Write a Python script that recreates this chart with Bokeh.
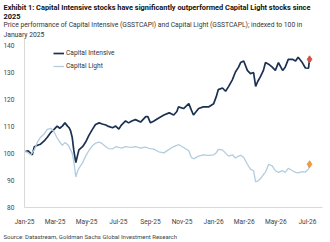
import pandas as pd
from bokeh.plotting import figure
from bokeh.models import Title, Range1d, FixedTicker, DatetimeTickFormatter, Legend, LegendItem
from bokeh.embed import file_html
from bokeh.resources import INLINE

dates = [
    "2025-01-03", "2025-01-08", "2025-01-13", "2025-01-16", "2025-01-20", "2025-01-26", "2025-02-01", "2025-02-08",
    "2025-02-14", "2025-02-21", "2025-02-27", "2025-03-05", "2025-03-10", "2025-03-15", "2025-03-20", "2025-03-25",
    "2025-03-28", "2025-03-31", "2025-04-03", "2025-04-06", "2025-04-10", "2025-04-13", "2025-04-16", "2025-04-23",
    "2025-04-29", "2025-05-05", "2025-05-12", "2025-05-18", "2025-05-25", "2025-05-31", "2025-06-07", "2025-06-12",
    "2025-06-20", "2025-06-26", "2025-07-02", "2025-07-07", "2025-07-15", "2025-07-21", "2025-07-27", "2025-08-03",
    "2025-08-13", "2025-08-23", "2025-08-27", "2025-09-01", "2025-09-07", "2025-09-17", "2025-09-27", "2025-10-07",
    "2025-10-10", "2025-10-16", "2025-10-22", "2025-10-25", "2025-11-04", "2025-11-14", "2025-11-19", "2025-11-23",
    "2025-12-03", "2025-12-12", "2025-12-22", "2026-01-01", "2026-01-06", "2026-01-10", "2026-01-18", "2026-01-24",
    "2026-01-30", "2026-02-06", "2026-02-12", "2026-02-18", "2026-02-22", "2026-02-28", "2026-03-07", "2026-03-13",
    "2026-03-19", "2026-03-23", "2026-03-27", "2026-04-01", "2026-04-07", "2026-04-11", "2026-04-17", "2026-04-24",
    "2026-04-30", "2026-05-06", "2026-05-14", "2026-05-19", "2026-05-25", "2026-06-02", "2026-06-08", "2026-06-13",
    "2026-06-21", "2026-06-27", "2026-07-03", "2026-07-05",
]

capital_intensive = [
    100.7, 101.0, 100.0, 99.5, 102.5, 103.0, 103.4, 104.6, 106.0, 107.8,
    108.9, 110.1, 109.3, 110.1, 111.3, 110.1, 109.5, 108.3, 106.0, 101.3,
    96.6, 99.0, 101.3, 102.5, 104.2, 106.6, 108.9, 110.7, 111.3, 110.9,
    110.5, 110.0, 109.5, 110.1, 109.0, 110.5, 112.0, 111.3, 112.0, 112.5,
    111.6, 113.6, 113.6, 111.3, 111.9, 113.1, 114.2, 115.0, 114.8, 114.2,
    115.5, 117.2, 116.6, 118.4, 116.0, 114.2, 116.6, 117.2, 117.2, 118.4,
    121.0, 123.6, 124.2, 123.0, 124.8, 127.2, 130.1, 131.9, 133.6, 134.2,
    130.7, 129.5, 129.9, 124.8, 126.6, 128.3, 130.7, 133.6, 133.0, 131.9,
    130.7, 133.6, 130.7, 131.9, 134.8, 134.8, 134.2, 135.6, 133.6, 131.6,
    131.5, 134.8,
]

capital_light = [
    100.7, 100.2, 99.5, 100.3, 101.3, 104.2, 106.0, 107.2, 108.9, 109.3,
    108.0, 105.7, 104.3, 103.0, 104.0, 103.3, 102.5, 101.3, 100.1, 97.2,
    91.3, 93.2, 94.5, 96.5, 99.0, 101.0, 102.8, 103.8, 104.2, 103.6,
    102.5, 101.8, 101.7, 102.5, 102.2, 102.0, 102.5, 102.3, 102.2, 102.5,
    102.0, 102.3, 102.0, 101.8, 101.6, 100.6, 100.2, 101.5, 101.9, 102.5,
    103.0, 103.3, 102.2, 101.0, 98.5, 98.0, 99.0, 99.5, 99.3, 99.5,
    100.2, 101.5, 101.3, 100.1, 99.0, 99.5, 98.3, 99.0, 99.3, 98.5,
    96.0, 94.2, 93.6, 89.5, 89.8, 90.6, 92.2, 93.0, 96.0, 95.4,
    93.6, 93.0, 93.6, 93.0, 94.5, 93.6, 93.0, 92.8, 93.3, 93.1,
    94.2, 96.0,
]

tick_dates = ["2025-01-01", "2025-03-01", "2025-05-01", "2025-07-01", "2025-09-01", "2025-11-01",
              "2026-01-01", "2026-03-01", "2026-05-01", "2026-07-01"]
y_ticks = [80, 90, 100, 110, 120, 130, 140]

title_lines = [
    "Exhibit 1: Capital Intensive stocks have significantly outperformed Capital Light stocks since",
    "2025",
]
subtitle_lines = [
    "Price performance of Capital Intensive (GSSTCAPI) and Capital Light (GSSTCAPL); indexed to 100 in",
    "January 2025",
]
source_text = "Source: Datastream, Goldman Sachs Global Investment Research"

FONT = "Roboto"
DARK = "#1a3152"
LIGHT = "#b2cde0"

x = pd.to_datetime(dates)
x_start = pd.Timestamp("2025-01-01")
x_end = pd.Timestamp("2026-07-30")

p = figure(width=330, height=242, x_axis_type="datetime", output_backend="svg",
           toolbar_location=None, x_range=Range1d(x_start, x_end), y_range=Range1d(80, 142.5),
           min_border_left=23, min_border_right=8, min_border_top=0, min_border_bottom=0)
p.title.visible = False

# title stack (added bottom-up)
for txt, size, style, color in [
    (subtitle_lines[1], "6.75px", "normal", "#333333"),
    (subtitle_lines[0], "6.75px", "normal", "#333333"),
    (title_lines[1], "7.4px", "bold", "#111111"),
    (title_lines[0], "7.4px", "bold", "#111111"),
]:
    t = Title(text=txt, text_font=FONT, text_font_size=size, text_font_style=style,
              text_color=color, align="left", offset=-21, standoff=0)
    p.add_layout(t, "above")

src = Title(text=source_text, text_font=FONT, text_font_size="6px", text_font_style="normal",
            text_color="#444444", align="left", offset=-21, standoff=5)
p.add_layout(src, "below")

r1 = p.line(x, capital_intensive, line_color=DARK, line_width=1.7)
r2 = p.line(x, capital_light, line_color=LIGHT, line_width=1.3)
p.scatter([x[-1]], [capital_intensive[-1]], marker="diamond", size=7, color="#d9503f")
p.scatter([x[-1]], [capital_light[-1]], marker="diamond", size=7, color="#ec9a45")

legend = Legend(items=[LegendItem(label="Capital Intensive", renderers=[r1]),
                       LegendItem(label="Capital Light", renderers=[r2])],
                location=(29, 136), orientation="vertical",
                label_text_font=FONT, label_text_font_size="6.6px", label_text_color="#333333",
                glyph_width=11, glyph_height=10, label_height=10, label_standoff=2,
                spacing=3, padding=0, margin=0, border_line_color=None, background_fill_alpha=0)
p.add_layout(legend)

p.xaxis.ticker = FixedTicker(ticks=[pd.Timestamp(d).value // 10**6 for d in tick_dates])
p.xaxis.formatter = DatetimeTickFormatter(days="%b-%y", months="%b-%y", years="%b-%y")
p.yaxis.ticker = FixedTicker(ticks=y_ticks)

for ax in (p.xaxis[0], p.yaxis[0]):
    ax.axis_line_color = "#d9d9d9"
    ax.axis_line_width = 1
    ax.major_tick_line_color = None
    ax.minor_tick_line_color = None
    ax.major_label_text_font = FONT
    ax.major_label_text_font_size = "6.6px"
    ax.major_label_text_color = "#444444"
p.xaxis.major_label_standoff = 4
p.yaxis.major_label_standoff = 4

p.xgrid.visible = False
p.ygrid.visible = False
p.outline_line_color = None
p.background_fill_color = "white"
p.border_fill_color = "white"

open("out.html", "w").write(file_html(p, INLINE))
